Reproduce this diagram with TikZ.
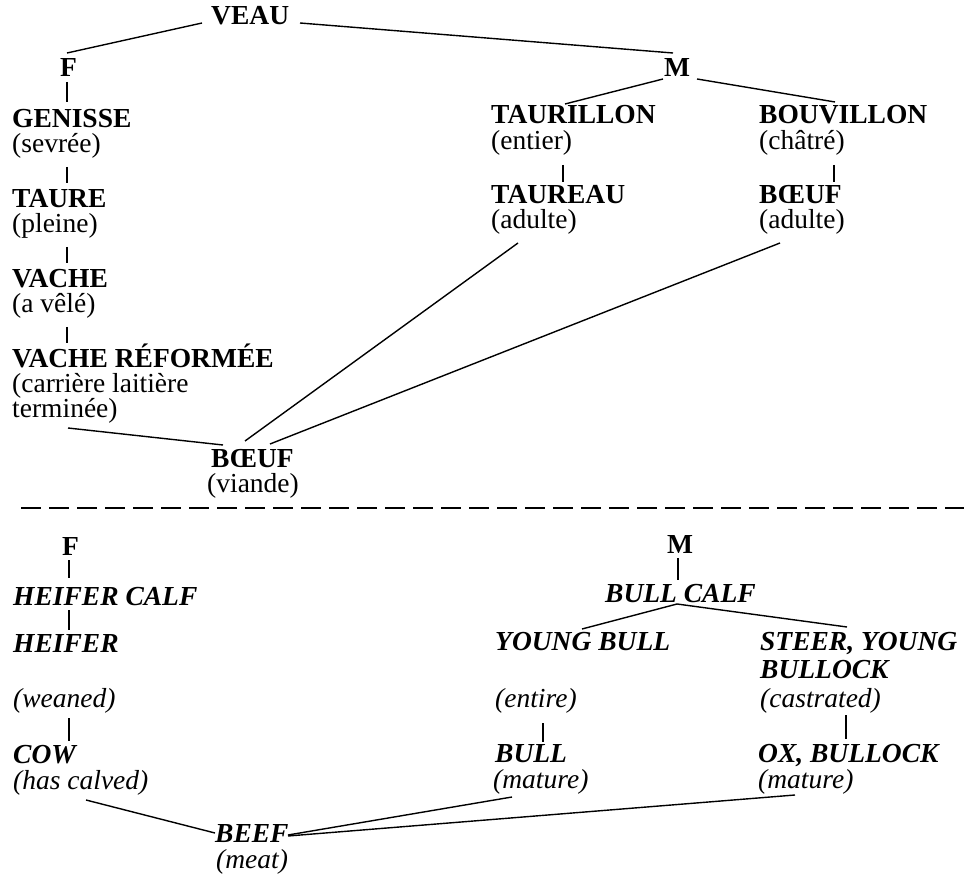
\documentclass[tikz,border=0pt]{standalone}
\usepackage{fontspec}
\setmainfont{Liberation Serif}
\usetikzlibrary{calc}
\tikzset{
  lbl/.style={inner sep=0pt, anchor=base west, font=\fontsize{27.5}{25}\selectfont},
  capword/.style={lbl, font=\fontsize{27.5}{25}\selectfont\bfseries},
  subword/.style={lbl},
  icapword/.style={lbl, font=\fontsize{27.5}{25}\selectfont\bfseries\itshape},
  isubword/.style={lbl, font=\fontsize{27.5}{25}\selectfont\itshape},
  conn/.style={line width=1.4pt, black},
  sepline/.style={line width=1.5pt, dash pattern=on 20pt off 8pt}
}
\begin{document}
\begin{tikzpicture}[x=1pt, y=-1pt]
\useasboundingbox (0,0) rectangle (964,877);
% ---------- top (French) ----------
\node[capword] (veau) at (211,25) {VEAU};
\node[capword] (fT) at (60,77) {F};
\node[capword] (mT) at (664,77) {M};
\node[capword] (gen) at (12,128) {GENISSE};
\node[subword] (gens) at (12,153) {(sevrée)};
\node[capword] (taure) at (12,208) {TAURE};
\node[subword] (taures) at (12,233) {(pleine)};
\node[capword] (vache) at (12,288) {VACHE};
\node[subword] (vaches) at (12,313) {(a vêlé)};
\node[capword] (vr) at (12,367) {VACHE RÉFORMÉE};
\node[subword] (vrs1) at (12,392) {(carrière laitière};
\node[subword] (vrs2) at (12,417) {terminée)};
\node[capword] (taur) at (491,124) {TAURILLON};
\node[subword] (taurs) at (491,150) {(entier)};
\node[capword] (taureau) at (491,204) {TAUREAU};
\node[subword] (taureaus) at (491,229) {(adulte)};
\node[capword] (bouv) at (759,124) {BOUVILLON};
\node[subword] (bouvs) at (759,150) {(châtré)};
\node[capword] (boeufA) at (759,204) {BŒUF};
\node[subword] (boeufAs) at (759,229) {(adulte)};
\node[capword] (boeuf) at (211,467) {BŒUF};
\node[subword] (boeufs) at (207,492) {(viande)};

\draw[conn] ($(veau.base west)+(-9,-2)$) -- ($(fT.base west)+(7,-24)$);
\draw[conn] ($(veau.base west)+(89,-2)$) -- ($(mT.base west)+(9,-24)$);
\draw[conn] ($(fT.base west)+(7,5)$) -- ($(fT.base west)+(7,25)$);
\draw[conn] ($(gens.base west)+(55,14)$) -- ($(gens.base west)+(55,30)$);
\draw[conn] ($(taures.base west)+(55,14)$) -- ($(taures.base west)+(55,30)$);
\draw[conn] ($(vaches.base west)+(55,14)$) -- ($(vaches.base west)+(55,30)$);
\draw[conn] ($(vrs2.base west)+(56,11)$) -- ($(boeuf.base west)+(12,-22)$);
\draw[conn] ($(taureaus.base west)+(27,14)$) -- ($(boeuf.base west)+(34,-26)$);
\draw[conn] ($(boeufAs.base west)+(21,14)$) -- ($(boeuf.base west)+(59,-23)$);
\draw[conn] ($(mT.base west)+(-1,2)$) -- ($(taur.base west)+(74,-20)$);
\draw[conn] ($(mT.base west)+(33,2)$) -- ($(bouv.base west)+(76,-22)$);
\draw[conn] ($(taurs.base west)+(72,15)$) -- ($(taurs.base west)+(72,32)$);
\draw[conn] ($(bouvs.base west)+(75,15)$) -- ($(bouvs.base west)+(75,32)$);

% ---------- separator ----------
\draw[sepline] (21,508) -- (964,508);

% ---------- bottom (English) ----------
\node[capword] (fB) at (62,555) {F};
\node[icapword] (hc) at (13,605) {HEIFER CALF};
\node[icapword] (heifer) at (13,652) {HEIFER};
\node[isubword] (weaned) at (13,707) {(weaned)};
\node[icapword] (cow) at (13,763) {COW};
\node[isubword] (cows) at (13,789) {(has calved)};
\node[icapword] (beef) at (215,842) {BEEF};
\node[isubword] (meat) at (216,868) {(meat)};
\node[capword] (mB) at (667,553) {M};
\node[icapword] (bc) at (605,602) {BULL CALF};
\node[icapword] (yb) at (495,650) {YOUNG BULL};
\node[isubword] (entire) at (495,707) {(entire)};
\node[icapword] (bull) at (495,762) {BULL};
\node[isubword] (bulls) at (493,788) {(mature)};
\node[icapword] (steer) at (760,650) {STEER, YOUNG};
\node[icapword] (bullock) at (760,678) {BULLOCK};
\node[isubword] (castr) at (760,707) {(castrated)};
\node[icapword] (ox) at (758,762) {OX, BULLOCK};
\node[isubword] (oxs) at (758,788) {(mature)};

\draw[conn] ($(fB.base west)+(7,5)$) -- ($(fB.base west)+(7,23)$);
\draw[conn] ($(hc.base west)+(56,5)$) -- ($(hc.base west)+(56,25)$);
\draw[conn] ($(weaned.base west)+(56,11)$) -- ($(weaned.base west)+(56,34)$);
\draw[conn] ($(cows.base west)+(73,11)$) -- ($(beef.base west)+(0,-9)$);
\draw[conn] ($(bulls.base west)+(19,9)$) -- ($(beef.base west)+(73,-7)$);
\draw[conn] ($(oxs.base west)+(37,7)$) -- ($(beef.base west)+(73,-6)$);
\draw[conn] ($(mB.base west)+(11,5)$) -- ($(mB.base west)+(11,27)$);
\draw[conn] ($(bc.base west)+(72,2)$) -- ($(yb.base west)+(87,-21)$);
\draw[conn] ($(bc.base west)+(72,2)$) -- ($(steer.base west)+(87,-23)$);
\draw[conn] ($(entire.base west)+(48,16)$) -- ($(entire.base west)+(48,35)$);
\draw[conn] ($(castr.base west)+(86,8)$) -- ($(castr.base west)+(86,32)$);
\end{tikzpicture}
\end{document}
